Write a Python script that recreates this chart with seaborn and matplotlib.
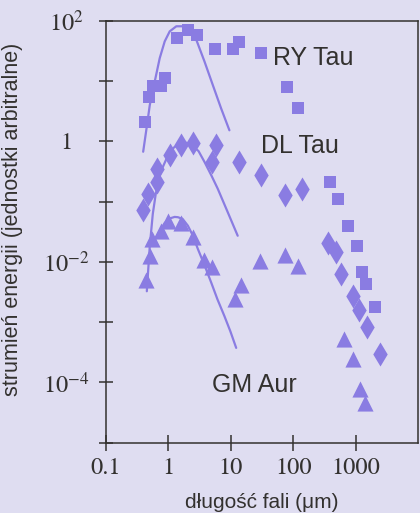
import pandas as pd
import matplotlib
matplotlib.use("Agg")
import matplotlib.pyplot as plt
import seaborn as sns

# ---------------- DATA ----------------
# RY Tau (squares)
ry_x = [0.42, 0.485, 0.57, 0.77, 0.87, 1.37, 2.06, 2.9, 5.5, 10.7, 13.7, 31, 79, 120,
        384, 526, 751, 1057, 1270, 1470, 2075]
ry_y = [2.1, 5.4, 8.4, 8.4, 11.4, 51.5, 69, 58.5, 34, 34, 44, 29, 7.8, 3.5,
        0.21, 0.111, 0.040, 0.018, 0.0067, 0.0043, 0.0018]

# DL Tau (diamonds)
dl_x = [0.385, 0.473, 0.658, 0.658, 1.07, 1.61, 2.47, 5.0, 5.83, 13.4, 31, 73.5, 140,
        356, 489, 588, 902, 1125, 1530, 2500]
dl_y = [0.073, 0.134, 0.215, 0.35, 0.585, 0.88, 0.95, 0.46, 0.88, 0.45, 0.28, 0.13, 0.163,
        0.0203, 0.0147, 0.0062, 0.0027, 0.0016, 8.4e-4, 3.0e-4]

# GM Aur (triangles)
gm_x = [0.434, 0.516, 0.556, 0.773, 0.986, 1.61, 2.47, 3.66, 5.0, 11.8, 14.6, 29.3,
        73.5, 120, 649, 902, 1194, 1436]
gm_y = [0.005, 0.0126, 0.0239, 0.033, 0.048, 0.044, 0.0255, 0.0107, 0.0081, 0.0024,
        0.0042, 0.0104, 0.013, 0.0084, 5.3e-4, 2.45e-4, 7.8e-5, 4.5e-5]

# fitted curves
ry_fit_x = [0.394, 0.446, 0.503, 0.604, 0.726, 0.873, 1.05, 1.34, 1.71, 2.19, 2.8, 3.79,
            5.14, 7.0, 9.5]
ry_fit_y = [0.67, 1.63, 3.98, 9.8, 23.9, 45.4, 66.5, 80.7, 80.7, 70.8, 48.2, 21,
            8.6, 3.5, 1.52]
dl_fit_x = [0.451, 0.503, 0.562, 0.627, 0.754, 0.986, 1.22, 1.51, 1.89, 2.35, 3.04, 3.79,
            4.91, 6.18, 8.93, 12.9]
dl_fit_y = [0.00325, 0.0183, 0.0624, 0.134, 0.313, 0.585, 0.785, 0.916, 0.95, 0.865,
            0.687, 0.454, 0.268, 0.163, 0.0666, 0.0271]
gm_fit_x = [0.604, 0.726, 0.873, 1.05, 1.26, 1.42, 1.69, 2.05, 2.44, 2.97, 3.79, 4.85,
            6.11, 7.9, 9.86, 12.2]
gm_fit_y = [0.023, 0.0325, 0.0442, 0.0525, 0.0556, 0.055, 0.0515, 0.0398, 0.0279, 0.0163,
            0.0088, 0.00454, 0.00239, 0.00126, 7.0e-4, 3.74e-4]

star_names = ["RY Tau", "DL Tau", "GM Aur"]
name_x = [48, 30, 5.0]
name_y = [24, 0.85, 9.2e-5]

x_ticks = [0.1, 1, 10, 100, 1000]
x_tick_labels = ["0.1", "1", "10", "100", "1000"]
y_ticks = [1e-5, 1e-4, 1e-3, 1e-2, 1e-1, 1, 10, 100]
y_tick_labels = ["", r"$10^{-4}$", "", r"$10^{-2}$", "", "1", "", r"$10^{2}$"]

# ---------------- STYLE ----------------
bg = "#dfddf1"
purple = "#8a7ce2"
dark = "#33312f"

sns.set_style("ticks")
plt.rcParams["font.family"] = ["Liberation Sans", "DejaVu Sans"]
plt.rcParams["mathtext.fontset"] = "stix"

fig = plt.figure(figsize=(4.2, 5.13), dpi=100, facecolor=bg)
ax = fig.add_axes([0.2524, 0.137, 0.7428, 0.8227])
ax.set_facecolor(bg)

# ---------------- PLOT ----------------
sns.lineplot(x=ry_fit_x, y=ry_fit_y, sort=False, estimator=None, color=purple, lw=1.6, ax=ax)
sns.lineplot(x=dl_fit_x, y=dl_fit_y, sort=False, estimator=None, color=purple, lw=1.6, ax=ax)
sns.lineplot(x=gm_fit_x, y=gm_fit_y, sort=False, estimator=None, color=purple, lw=1.6, ax=ax)

sns.scatterplot(x=ry_x, y=ry_y, marker="s", s=70, color=purple, linewidth=0, ax=ax)
sns.scatterplot(x=dl_x, y=dl_y, marker="d", s=150, color=purple, linewidth=0, ax=ax)
sns.scatterplot(x=gm_x, y=gm_y, marker="^", s=135, color=purple, linewidth=0, ax=ax)

for name, nx, ny in zip(star_names, name_x, name_y):
    ax.text(nx, ny, name, fontsize=18, color=dark, va="center", ha="left")

ax.set_xscale("log")
ax.set_yscale("log")
ax.set_xlim(0.1, 1e4)
ax.set_ylim(1e-5, 1e2)

ax.set_xticks(x_ticks)
ax.set_xticklabels(x_tick_labels)
ax.set_yticks(y_ticks)
ax.set_yticklabels(y_tick_labels)
ax.minorticks_off()

ax.tick_params(axis="x", direction="inout", length=11, width=1.1, color=dark,
               pad=5, labelsize=17.5, labelcolor=dark)
ax.tick_params(axis="y", direction="inout", length=9.5, width=1.1, color=dark,
               pad=24, labelsize=17.5, labelcolor=dark)
for lab in ax.get_xticklabels() + ax.get_yticklabels():
    lab.set_fontfamily("STIXGeneral")
for lab in ax.get_yticklabels():
    lab.set_horizontalalignment("center")

for sp in ax.spines.values():
    sp.set_color(dark)
    sp.set_linewidth(1.1)

ax.set_xlabel("długość fali (μm)", fontsize=15, color=dark, labelpad=10)
ax.set_ylabel("strumień energii (jednostki arbitralne)", fontsize=15.5, color=dark)
ax.yaxis.set_label_coords(-0.265, 0.53)

fig.savefig("out.png", dpi=100, facecolor=bg)
